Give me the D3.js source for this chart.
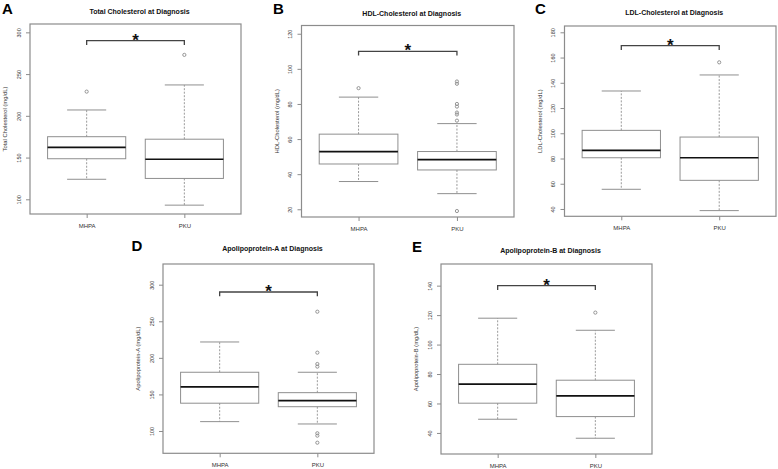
<!DOCTYPE html>
<html>
<head>
<meta charset="utf-8">
<script src="https://cdn.jsdelivr.net/npm/d3@7"></script>
<style>
  body { margin: 0; background: #fff; }
  svg { display: block; font-family: "Liberation Sans", Arial, Helvetica, sans-serif; }
</style>
</head>
<body>
<svg id="chart" width="778" height="469"></svg>
<script>
// groups on the x axis
const groups = ['MHPA', 'PKU'];

const panelLetters = ['A', 'B', 'C', 'D', 'E'];
const panelTitles = [
    'Total Cholesterol at Diagnosis',
    'HDL-Cholesterol at Diagnosis',
    'LDL-Cholesterol at Diagnosis',
    'Apolipoprotein-A at Diagnosis',
    'Apolipoprotein-B at Diagnosis'
];
const yTitles = [
    'Total Cholesterol (mg/dL)',
    'HDL-Cholesterol (mg/dL)',
    'LDL-Cholesterol (mg/dL)',
    'Apolipoprotein-A (mg/dL)',
    'Apolipoprotein-B (mg/dL)'
];

// box stats: lower whisker, q1, median, q3, upper whisker, outliers
const totalChol = [
    {lo: 124, q1: 148.6, med: 162.3, q3: 175, hi: 207, out: [229]},
    {lo: 93, q1: 125, med: 148, q3: 172, hi: 237, out: [273]}
];
const hdlChol = [
    {lo: 35.8, q1: 45.8, med: 52.9, q3: 62.8, hi: 83.9, out: [89]},
    {lo: 28.9, q1: 42.4, med: 48.3, q3: 52.9, hi: 68.8, out: [19, 70.5, 74, 75.1, 78.5, 80, 91.5, 92.8]}
];
const ldlChol = [
    {lo: 55.6, q1: 80.6, med: 86.5, q3: 102.3, hi: 133.5, out: []},
    {lo: 38.7, q1: 62.7, med: 80.6, q3: 97, hi: 146.2, out: [156.2]}
];
const apoA = [
    {lo: 112.8, q1: 138, med: 160.2, q3: 180.3, hi: 221.7, out: []},
    {lo: 109.6, q1: 133.2, med: 141.5, q3: 152.4, hi: 180.3, out: [84, 93.6, 96.9, 188, 191.6, 207.1, 263.1]}
];
const apoB = [
    {lo: 49.3, q1: 60.2, med: 73.1, q3: 86.6, hi: 117.9, out: []},
    {lo: 36.4, q1: 51.1, med: 65.1, q3: 75.8, hi: 109.7, out: [121.7]}
];

// y tick labels
const totalCholTicks = [100, 150, 200, 250, 300];
const hdlCholTicks = [20, 40, 60, 80, 100, 120];
const ldlCholTicks = [40, 60, 80, 100, 120, 140, 160, 180];
const apoATicks = [100, 150, 200, 250, 300];
const apoBTicks = [40, 60, 80, 100, 120, 140];

// level of the significance bracket
const bracketLevels = [290, 110, 169.4, 290, 140];

const yDomains = [[82.4, 310], [15.6, 124.7], [34.2, 185], [69.5, 328.3], [25.7, 154.7]];

const panelData = [totalChol, hdlChol, ldlChol, apoA, apoB];
const panelTicks = [totalCholTicks, hdlCholTicks, ldlCholTicks, apoATicks, apoBTicks];

// frame of each plot region (layout)
const frames = [
    {left: 30, right: 241, top: 24, bottom: 214, titleY: 13.5, letterX: 2, letterY: 14},
    {left: 301.5, right: 514, top: 25.5, bottom: 217, titleY: 16, letterX: 273, letterY: 14},
    {left: 564.5, right: 776, top: 26, bottom: 216.3, titleY: 15, letterX: 535, letterY: 14},
    {left: 163, right: 374, top: 264, bottom: 453.3, titleY: 251, letterX: 131.5, letterY: 251},
    {left: 441, right: 652, top: 264, bottom: 454, titleY: 252.5, letterX: 412, letterY: 251.5}
];

const svg = d3.select('#chart');

const frameColor = '#8c8c8c';
const boxColor = '#8f8f8f';
const textColor = '#333';

panelData.forEach((data, i) => {
    const f = frames[i];

    const xScale = d3.scaleLinear()
        .domain([0.42, 2.58])
        .range([f.left, f.right]);

    const yScale = d3.scaleLinear()
        .domain(yDomains[i])
        .range([f.bottom, f.top]);

    const g = svg.append('g').attr('class', 'panel');

    // panel letter
    g.append('text')
        .attr('x', f.letterX)
        .attr('y', f.letterY)
        .style('font-size', '15px')
        .style('font-weight', 700)
        .attr('fill', '#000')
        .text(panelLetters[i]);

    // title
    g.append('text')
        .attr('x', (f.left + f.right) / 2 + 4)
        .attr('y', f.titleY)
        .attr('text-anchor', 'middle')
        .style('font-size', '7px')
        .style('font-weight', 700)
        .attr('fill', '#111')
        .text(panelTitles[i]);

    // y axis
    const yAxisG = g.append('g')
        .attr('transform', `translate(${f.left},0)`)
        .call(d3.axisLeft(yScale).tickValues(panelTicks[i]).tickSize(4));
    yAxisG.select('.domain').remove();
    yAxisG.selectAll('.tick line').attr('stroke', frameColor);
    yAxisG.selectAll('.tick text')
        .attr('transform', 'rotate(-90)')
        .attr('x', 0)
        .attr('y', -11)
        .attr('dy', '0.35em')
        .attr('text-anchor', 'middle')
        .attr('fill', textColor)
        .style('font-size', '5.5px')
        .style('font-family', '"Liberation Sans", Arial, sans-serif');

    // x axis
    const xAxisG = g.append('g')
        .attr('transform', `translate(0,${f.bottom})`)
        .call(d3.axisBottom(xScale).tickValues([1, 2]).tickFormat(d => groups[d - 1]).tickSize(4));
    xAxisG.select('.domain').remove();
    xAxisG.selectAll('.tick line').attr('stroke', frameColor);
    xAxisG.selectAll('.tick text')
        .attr('y', 12)
        .attr('dy', '0.35em')
        .attr('fill', textColor)
        .style('font-size', '6px')
        .style('font-family', '"Liberation Sans", Arial, sans-serif');

    // y axis title
    g.append('text')
        .attr('transform', `translate(${f.left - 25},${(f.top + f.bottom) / 2}) rotate(-90)`)
        .attr('text-anchor', 'middle')
        .attr('dy', '0.35em')
        .attr('fill', textColor)
        .style('font-size', '5.8px')
        .text(yTitles[i]);

    // boxes
    const boxes = g.selectAll('.box')
        .data(data)
        .join('g')
        .attr('class', 'box');

    const half = 0.4, cap = 0.2;

    // whiskers (dashed)
    boxes.append('line')
        .attr('x1', (d, j) => xScale(j + 1))
        .attr('x2', (d, j) => xScale(j + 1))
        .attr('y1', d => yScale(d.q3))
        .attr('y2', d => yScale(d.hi))
        .attr('stroke', '#9a9a9a')
        .attr('stroke-dasharray', '2,1.5');
    boxes.append('line')
        .attr('x1', (d, j) => xScale(j + 1))
        .attr('x2', (d, j) => xScale(j + 1))
        .attr('y1', d => yScale(d.q1))
        .attr('y2', d => yScale(d.lo))
        .attr('stroke', '#9a9a9a')
        .attr('stroke-dasharray', '2,1.5');

    // staples
    boxes.append('line')
        .attr('x1', (d, j) => xScale(j + 1 - cap))
        .attr('x2', (d, j) => xScale(j + 1 + cap))
        .attr('y1', d => yScale(d.hi))
        .attr('y2', d => yScale(d.hi))
        .attr('stroke', boxColor);
    boxes.append('line')
        .attr('x1', (d, j) => xScale(j + 1 - cap))
        .attr('x2', (d, j) => xScale(j + 1 + cap))
        .attr('y1', d => yScale(d.lo))
        .attr('y2', d => yScale(d.lo))
        .attr('stroke', boxColor);

    // box
    boxes.append('rect')
        .attr('x', (d, j) => xScale(j + 1 - half))
        .attr('width', xScale(1 + half) - xScale(1 - half))
        .attr('y', d => yScale(d.q3))
        .attr('height', d => yScale(d.q1) - yScale(d.q3))
        .attr('fill', 'none')
        .attr('stroke', boxColor);

    // median
    boxes.append('line')
        .attr('x1', (d, j) => xScale(j + 1 - half))
        .attr('x2', (d, j) => xScale(j + 1 + half))
        .attr('y1', d => yScale(d.med))
        .attr('y2', d => yScale(d.med))
        .attr('stroke', '#111')
        .attr('stroke-width', 1.7);

    // outliers
    boxes.selectAll('.outlier')
        .data((d, j) => d.out.map(v => ({v: v, x: j + 1})))
        .join('circle')
        .attr('class', 'outlier')
        .attr('cx', d => xScale(d.x))
        .attr('cy', d => yScale(d.v))
        .attr('r', 1.6)
        .attr('fill', 'none')
        .attr('stroke', '#8a8a8a')
        .attr('stroke-width', 0.9);

    // significance bracket
    const by = yScale(bracketLevels[i]);
    g.append('path')
        .attr('d', `M${xScale(1)},${by + 4.3}V${by}H${xScale(2)}V${by + 4.3}`)
        .attr('fill', 'none')
        .attr('stroke', '#444')
        .attr('stroke-width', 1.3);

    g.append('text')
        .attr('x', (xScale(1) + xScale(2)) / 2)
        .attr('y', by + 5)
        .attr('text-anchor', 'middle')
        .style('font-size', '17px')
        .style('font-weight', 700)
        .attr('fill', '#111')
        .text('*');

    // frame
    g.append('rect')
        .attr('x', f.left)
        .attr('y', f.top)
        .attr('width', f.right - f.left)
        .attr('height', f.bottom - f.top)
        .attr('fill', 'none')
        .attr('stroke', frameColor)
        .attr('stroke-width', 1.2);
});
</script>
</body>
</html>
